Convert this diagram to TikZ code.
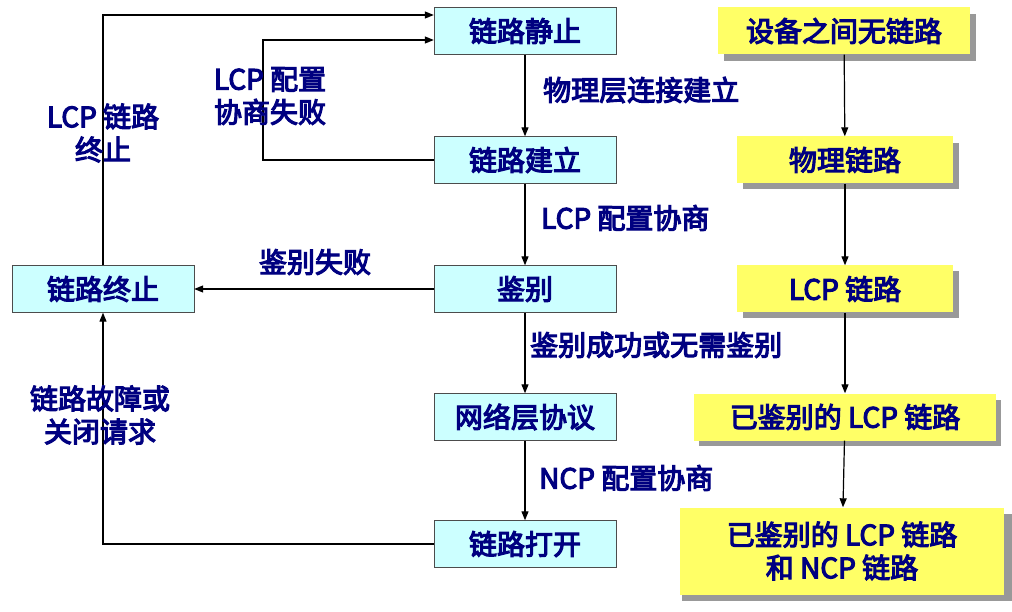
\documentclass[tikz,border=0pt]{standalone}
\usepackage{fontspec}
\setmainfont[FakeBold=4]{Noto Sans CJK SC}
\usetikzlibrary{arrows.meta}
\definecolor{tx}{HTML}{000080}
\definecolor{cy}{HTML}{CCFFFF}
\definecolor{ye}{HTML}{FFFF66}
\begin{document}
\begin{tikzpicture}[x=1pt,y=-1pt,
  every node/.style={font=\fontsize{28}{33}\selectfont, text=tx},
  cbox/.style={draw=black!70, fill=cy, minimum width=182, minimum height=47, inner sep=0},
  lab/.style={align=center, inner sep=0},
  arr/.style={-{Triangle[length=9pt,width=7pt]}, line width=1.2pt}]
\useasboundingbox (0,0) rectangle (1012,612);
\node[cbox] (s) at (525,31) {链路静止};
\node[cbox] (e) at (525,160) {链路建立};
\node[cbox] (a) at (525,289) {鉴别};
\node[cbox] (n) at (525,417) {网络层协议};
\node[cbox] (o) at (525,544) {链路打开};
\node[cbox] (t) at (103,289) {链路终止};
\fill[black!40] (724,14) rectangle (976,61);
\node[fill=ye, minimum width=252, minimum height=47, inner sep=0] (y1) at (844,31) {设备之间无链路};
\fill[black!40] (743,143) rectangle (959,189);
\node[fill=ye, minimum width=216, minimum height=47, inner sep=0] (y2) at (845,160) {物理链路};
\fill[black!40] (743,271) rectangle (959,318);
\node[fill=ye, minimum width=216, minimum height=47, inner sep=0] (y3) at (845,289) {LCP 链路};
\fill[black!40] (699,400) rectangle (1001,446);
\node[fill=ye, minimum width=302, minimum height=47, inner sep=0] (y4) at (845,417) {已鉴别的 LCP 链路};
\fill[black!40] (682,514) rectangle (1012,601);
\node[fill=ye, minimum width=324, minimum height=87, inner sep=0, align=center] (y5) at (842,551) {已鉴别的 LCP 链路\\和 NCP 链路};
\draw[arr] (s) -- (e);
\draw[arr] (e) -- (a);
\draw[arr] (a) -- (n);
\draw[arr] (n) -- (o);
\draw[arr] (y1) -- (y2);
\draw[arr] (y2) -- (y3);
\draw[arr] (y3) -- (y4);
\draw[arr] (y4) -- (y5);
\draw[arr] (a) -- (t);
\coordinate (c1) at (103,15);
\draw[arr] (t.north) -- (c1) -- (s.west |- c1);
\coordinate (c2) at (263,160);
\coordinate (c3) at (263,40);
\draw[arr] (e.west) -- (c2) -- (c3) -- (s.west |- c3);
\coordinate (c4) at (103,544);
\draw[arr] (o.west) -- (c4) -- (t.south);
\node[lab, anchor=west] (l1) at (543,90) {物理层连接建立};
\node[lab, anchor=west] (l2) at (541,218) {LCP 配置协商};
\node[lab, anchor=west] (l3) at (530,345) {鉴别成功或无需鉴别};
\node[lab, anchor=west] (l4) at (539,478) {NCP 配置协商};
\node[lab] (l5) at (315,262) {鉴别失败};
\node[lab] (l6) at (103,133) {LCP 链路\\终止};
\node[lab] (l7) at (270,96) {LCP 配置\\协商失败};
\node[lab] (l8) at (100,415) {链路故障或\\关闭请求};
\end{tikzpicture}
\end{document}
